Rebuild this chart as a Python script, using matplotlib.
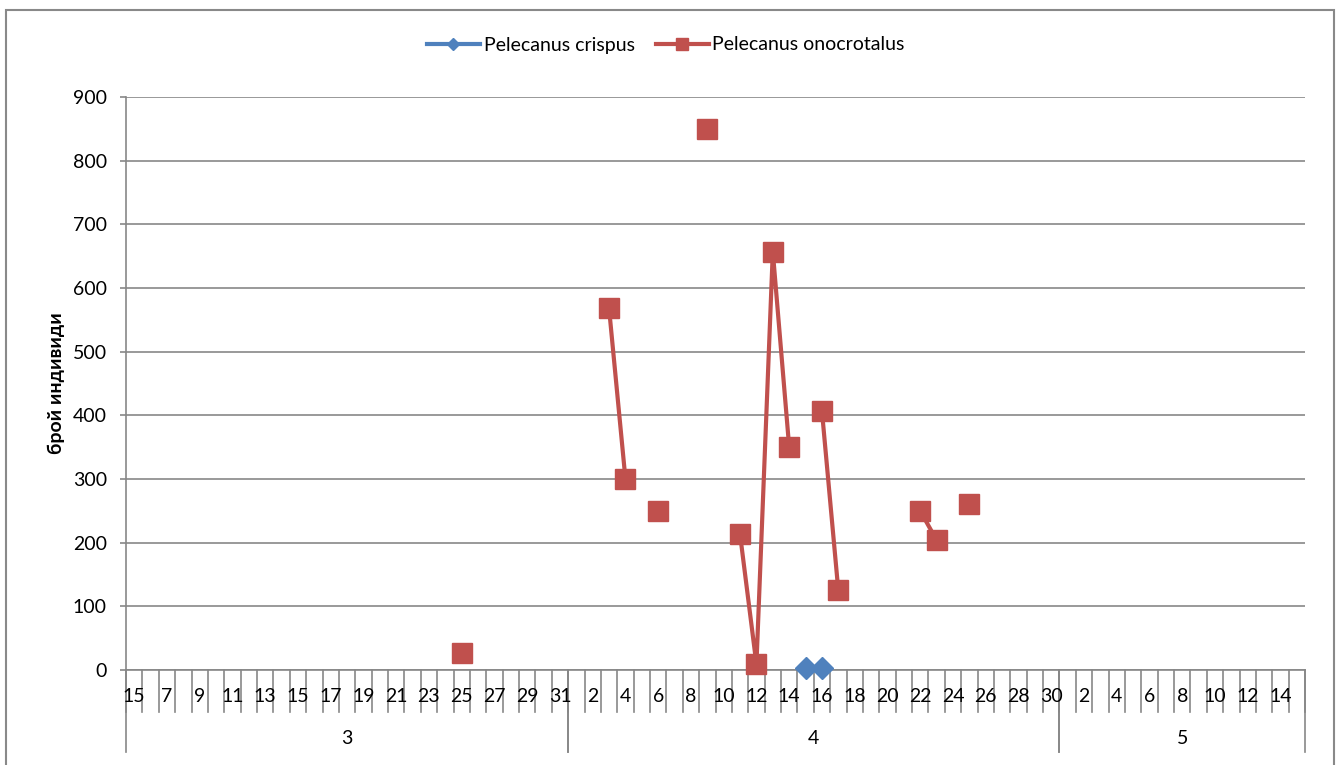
import numpy as np
import matplotlib
matplotlib.use("Agg")
import matplotlib.pyplot as plt
from matplotlib.lines import Line2D
from matplotlib.patches import Rectangle
from matplotlib.transforms import blended_transform_factory

plt.rcParams['font.family'] = ['Lato', 'DejaVu Sans']

# category axis: month -> day labels
months = [3, 4, 5]
days_mar = ["15"] + [str(d) for d in range(6, 32)]
days_apr = [str(d) for d in range(1, 31)]
days_may = [str(d) for d in range(1, 16)]
month_days = [days_mar, days_apr, days_may]

# observations (month, day) -> count
onocrotalus_dates = [(3, 25), (4, 3), (4, 4), (4, 6), (4, 9), (4, 11), (4, 12),
                     (4, 13), (4, 14), (4, 16), (4, 17), (4, 22), (4, 23), (4, 25)]
onocrotalus_vals = [26, 568, 300, 250, 850, 213, 9, 657, 350, 407, 125, 250, 204, 260]
crispus_dates = [(4, 15), (4, 16)]
crispus_vals = [3, 3]

yticks = list(range(0, 1000, 100))

# build flat category list
cats = []
for m, dl in zip(months, month_days):
    for d in dl:
        cats.append((m, d))
n = len(cats)
lookup = {(m, int(d)): i for i, (m, d) in enumerate(cats)}

def series(dates, vals):
    s = np.full(n, np.nan)
    for key, v in zip(dates, vals):
        s[lookup[key]] = v
    return s

ono = series(onocrotalus_dates, onocrotalus_vals)
cri = series(crispus_dates, crispus_vals)

W, H = 1336, 765
fig = plt.figure(figsize=(W / 100, H / 100), dpi=100)
L, R, T, B = 126, 1305, 97, 670
ax = fig.add_axes([L / W, 1 - B / H, (R - L) / W, (B - T) / H])

grey = '#878787'
blue = '#4F81BD'
red = '#C0504D'
fs = 14

ax.set_xlim(-0.5, n - 0.5)
ax.set_ylim(0, 900)
ax.set_yticks(yticks)
ax.yaxis.grid(True, color=grey, lw=1.2)
ax.set_axisbelow(True)
for sp in ['top', 'right']:
    ax.spines[sp].set_visible(False)
for sp in ['left', 'bottom']:
    ax.spines[sp].set_color(grey)
    ax.spines[sp].set_linewidth(1.2)
ax.set_xticks([])
ax.tick_params(axis='y', length=4.3, width=1.2, color=grey, pad=9.5, labelsize=fs)

ax.plot(np.arange(n), cri, color=blue, lw=3, marker='D', ms=11,
        clip_on=False, zorder=4)
ax.plot(np.arange(n), ono, color=red, lw=3, marker='s', ms=14,
        clip_on=False, zorder=3)

# category tick marks and labels below the axis
px = 1.0 / (B - T)
tr = blended_transform_factory(ax.transData, ax.transAxes)
for k in range(n + 1):
    ax.plot([k - 0.5, k - 0.5], [0, -42 * px], color=grey, lw=1.2,
            transform=tr, clip_on=False)
for i, (m, d) in enumerate(cats):
    if i % 2 == 0:
        ax.text(i, -27 * px, d, transform=tr, ha='center', va='center',
                fontsize=fs)
start = 0
for m, dl in zip(months, month_days):
    end = start + len(dl)
    for b in (start, end):
        ax.plot([b - 0.5, b - 0.5], [0, -82 * px], color=grey, lw=1.2,
                transform=tr, clip_on=False)
    ax.text((start + end - 1) / 2, -68 * px, str(m), transform=tr,
            ha='center', va='center', fontsize=fs)
    start = end

fig.text(56 / W, 1 - 383 / H, 'брой индивиди', rotation=90, ha='center',
         va='center', fontsize=fs, fontweight='bold')

handles = [Line2D([], [], color=blue, lw=3, marker='D', ms=6),
           Line2D([], [], color=red, lw=3, marker='s', ms=9)]
fig.legend(handles, ['Pelecanus crispus', 'Pelecanus onocrotalus'],
           loc='center', bbox_to_anchor=(666 / W, 1 - 45 / H), ncol=2,
           frameon=False, fontsize=fs, handlelength=2.7, handletextpad=0.2,
           columnspacing=1.1)

fig.patches.append(Rectangle((6 / W, -0.05), 1328 / W, 1.05 - 10 / H,
                             transform=fig.transFigure, fill=False,
                             edgecolor='#898989', lw=1.5))

fig.savefig('out.png', dpi=100)
